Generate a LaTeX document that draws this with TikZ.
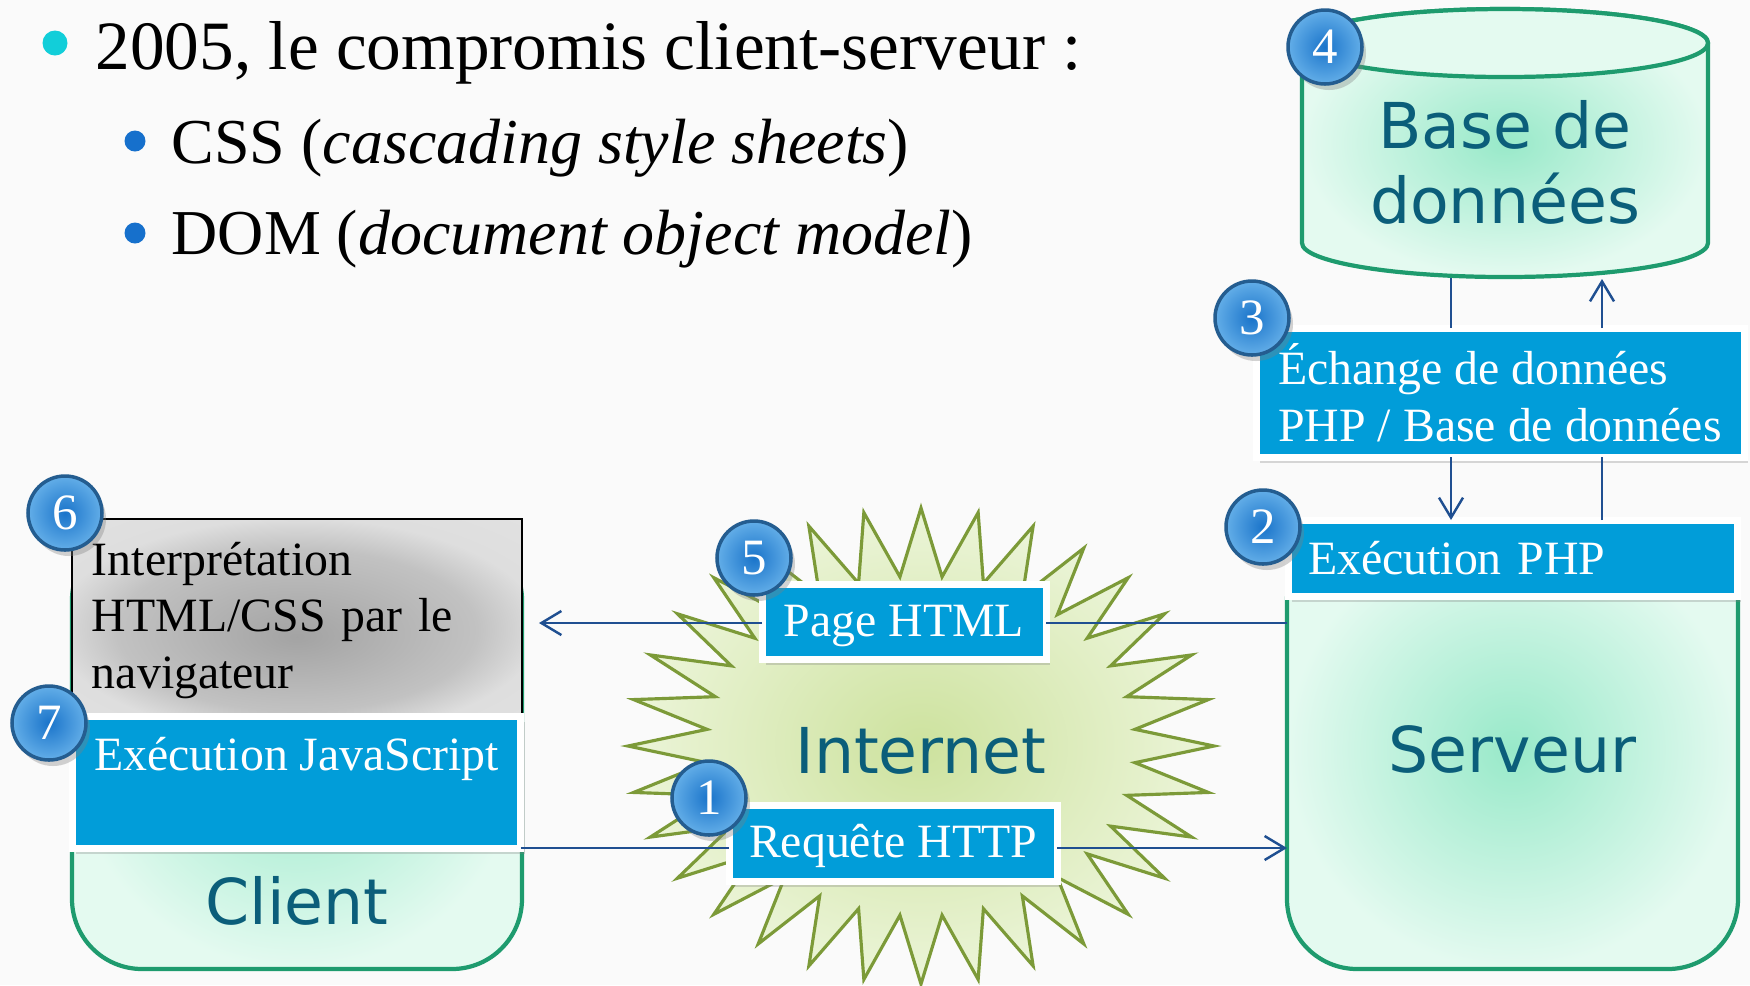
\documentclass[tikz,border=0pt]{standalone}
\usepackage{fontspec}
\setmainfont{Liberation Serif}
\newfontfamily\etiquette{DejaVu Sans}
\usetikzlibrary{arrows.meta,shadows}

\definecolor{fond}{HTML}{FAFAFA}
\definecolor{boxblue}{HTML}{019DD9}
\definecolor{linkblue}{HTML}{1F4F91}
\definecolor{labelteal}{HTML}{0B5E7A}
\definecolor{mintin}{HTML}{98E9C9}
\definecolor{mintout}{HTML}{E4FAF0}
\definecolor{mintline}{HTML}{1E9B6E}
\definecolor{starin}{HTML}{CDE29E}
\definecolor{starout}{HTML}{ECF5D9}
\definecolor{starline}{HTML}{7C9A38}
\definecolor{badgein}{HTML}{1A74CA}
\definecolor{badgeout}{HTML}{63AEE8}
\definecolor{badgeline}{HTML}{245D90}
\definecolor{cyanpuce}{HTML}{12CED9}
\definecolor{bluepuce}{HTML}{1670CC}
\pgfdeclareradialshading{gris}{\pgfpoint{0bp}{-4bp}}{color(0bp)=(gray!72); color(20bp)=(gray!48); color(27bp)=(gray!26); color(50bp)=(gray!20)}

\begin{document}
\begin{tikzpicture}[x=0.1mm, y=-0.1mm,
    boite/.style ={rectangle, fill=boxblue, draw=white, line width=0.7mm, outer sep=0pt,
                   inner xsep=2mm, inner ysep=0pt, text=white,
                   font=\fontsize{13.6}{16.2}\selectfont,
                   drop shadow={opacity=0.3, shadow xshift=0.4mm, shadow yshift=-0.6mm}},
    pastille/.style ={circle, draw=badgeline, line width=1pt, inner color=badgein, outer color=badgeout,
                   text=white, minimum size=7.4mm, inner sep=0pt, font=\fontsize{14.5}{15}\selectfont,
                   drop shadow={opacity=0.35, shadow xshift=0.4mm, shadow yshift=-0.6mm}},
    poste/.style ={rectangle, rounded corners=7mm, draw=mintline, line width=1.2pt, inner color=mintin,
                   outer color=mintout, outer sep=0pt, text=labelteal, font=\etiquette\fontsize{18}{21.3}\selectfont},
    grand/.style ={text=labelteal, font=\etiquette\fontsize{18}{21.3}\selectfont, align=center, inner sep=0pt},
    lien/.style ={draw=linkblue, line width=0.7pt, -{Straight Barb[length=2mm,width=2.4mm]}},
    puce/.style ={circle, inner sep=0pt, minimum size=2.1mm}]
   \useasboundingbox (0,0) rectangle (1750,985);
   \clip (0,0) rectangle (1750,985);
   \fill[fond] (0,0) rectangle (1750,985);

   % titre et puces
   \node[puce, fill=cyanpuce, minimum size=2.5mm] (puce1) at (55,43) {};
   \node[puce, fill=bluepuce] (puce2) at (135,141) {};
   \node[puce, fill=bluepuce] (puce3) at (135,233) {};
   \node[anchor=base west, inner sep=0pt, font=\fontsize{19.7}{24}\selectfont] (titre) at (95,69) {2005, le compromis client-serveur :};
   \node[anchor=base west, inner sep=0pt, font=\fontsize{18.2}{22}\selectfont] (css) at (171,163) {CSS (\textit{cascading style sheets})};
   \node[anchor=base west, inner sep=0pt, font=\fontsize{18.2}{22}\selectfont] (dom) at (171,254) {DOM (\textit{document object model})};

   % base de donnees
   \shadedraw[draw=mintline, line width=1.2pt, inner color=mintin, outer color=mintout]
      (1302,43) -- (1302,243) arc[start angle=180, end angle=360, x radius=20.3mm, y radius=3.4mm]
      -- (1708,43) arc[start angle=0, end angle=180, x radius=20.3mm, y radius=3.4mm] -- cycle;
   \filldraw[draw=mintline, line width=1.2pt, fill=mintout] (1505,43) ellipse [x radius=20.3mm, y radius=3.4mm];
   \node[grand] (bdd) at (1505,162) {Base de\\données};

   % internet
   \shadedraw[draw=starline, line width=0.9pt, inner color=starin, outer color=starout, shift={(921,746)}]
      (0:29.3mm and 23.8mm) \foreach \k in {0,...,31} { -- (\k*11.25:29.3mm and 23.8mm) -- (\k*11.25+5.625:21.5mm and 17mm) } -- cycle;
   \node[grand, anchor=base] (internet) at (921,773) {Internet};

   % client et serveur
   \node[poste, minimum width=45.1mm, minimum height=43.9mm, anchor=north west] (serveur) at (1287,530) {Serveur};
   \node[poste, minimum width=45mm, minimum height=43.9mm, anchor=north west] (client) at (72,530) {};
   \node[grand, anchor=base] (nomclient) at (297,924) {Client};
   \node[rectangle, draw=black, line width=0.6pt, shading=gris, outer sep=0pt,
         anchor=north west, minimum width=45mm, minimum height=20.3mm, text width=41mm, inner xsep=2mm,
         align=left, font=\fontsize{13.6}{16.2}\selectfont] (interp) at (72,519) {Interprétation\\HTML/CSS par le\\navigateur};

   \node[boite, anchor=north west, minimum width=44.9mm, minimum height=13.2mm, align=left,
         text height=3.4mm, text depth=5.8mm] (js) at (72,716) {Exécution JavaScript};
   \node[boite, anchor=north west, minimum width=48.8mm, minimum height=12.9mm, align=left] (echange) at (1256,328) {Échange de données\\PHP / Base de données};
   \node[boite, anchor=north west, minimum width=44.9mm, minimum height=7.6mm, text width=40.9mm, align=left] (php) at (1288,520) {Exécution PHP};
   \node[boite, anchor=north west, minimum width=28.4mm, minimum height=7.5mm,
         text height=3.3mm, text depth=0.4mm] (page) at (762,584) {Page HTML};
   \node[boite, anchor=north west, minimum width=32.8mm, minimum height=7.6mm,
         text height=3.3mm, text depth=0.5mm] (requete) at (729,805) {Requête HTTP};

   % liens
   \coordinate (retour) at (0,623);
   \coordinate (aller) at (0,848);
   \coordinate (descente) at (1451,278);
   \coordinate (montee) at (1602,279);
   \draw[lien, -] (retour -| serveur.west) -- (retour -| page.east);
   \draw[lien, shorten >=1.7mm] (retour -| page.west) -- (retour -| interp.east);
   \draw[lien, -] (aller -| js.east) -- (aller -| requete.west);
   \draw[lien] (aller -| requete.east) -- (aller -| serveur.west);
   \draw[lien, -] (descente) -- (descente |- echange.north);
   \draw[lien] (descente |- echange.south) -- (descente |- php.north);
   \draw[lien, -] (montee |- php.north) -- (montee |- echange.south);
   \draw[lien] (montee |- echange.north) -- (montee);

   % numeros
   \node[pastille] (n1) at (709,798) {1};
   \node[pastille] (n2) at (1263,527) {2};
   \node[pastille] (n3) at (1252,318) {3};
   \node[pastille] (n4) at (1325,47) {4};
   \node[pastille] (n5) at (754,558) {5};
   \node[pastille] (n6) at (65,513) {6};
   \node[pastille] (n7) at (49,723) {7};
\end{tikzpicture}
\end{document}
